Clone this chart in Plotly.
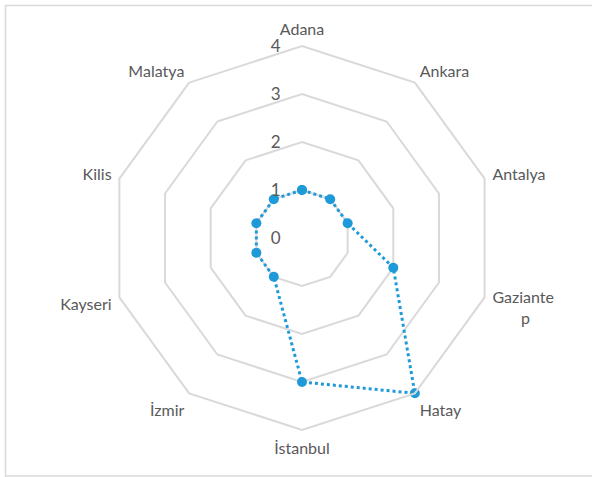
import plotly.graph_objects as go

NB = "\u00a0"
categories = ["Adana", "Ankara", "Antalya", "Gaziante<br>" + NB * 7 + "p", "Hatay",
              "İstanbul", "İzmir", "Kayseri", "Kilis", "Malatya"]
values = [1, 1, 1, 2, 4, 3, 1, 1, 1, 1]
radial_ticks = [0, 1, 2, 3, 4]

theta = categories + [categories[0]]
r = values + [values[0]]

fig = go.Figure()
fig.add_trace(go.Scatterpolar(
    r=r, theta=theta, mode="lines+markers",
    line=dict(color="#1f9ad8", width=3, dash="dot"),
    marker=dict(color="#1f9ad8", size=10),
    showlegend=False, cliponaxis=False,
))

W, H = 592, 477
cx, cy, R = 302, 238, 192
fig.update_layout(
    width=W, height=H,
    margin=dict(l=0, r=0, t=0, b=0),
    paper_bgcolor="white",
    font=dict(family="Lato, Open Sans, sans-serif", size=16, color="#595959"),
    polar=dict(
        domain=dict(x=[(cx - R) / W, (cx + R) / W],
                    y=[(H - cy - R) / H, (H - cy + R) / H]),
        gridshape="linear",
        bgcolor="white",
        angularaxis=dict(
            direction="clockwise", rotation=90,
            showgrid=False, showline=True, linecolor="#d9d9d9", linewidth=2,
            ticks="outside", ticklen=4, tickcolor="rgba(0,0,0,0)",
            tickfont=dict(size=16, color="#595959"),
        ),
        radialaxis=dict(
            range=[0, 4], tickvals=radial_ticks, angle=90, tickangle=90,
            showline=False, showgrid=True, gridcolor="#d9d9d9", gridwidth=2,
            ticks="outside", ticklen=15, tickcolor="rgba(0,0,0,0)",
            side="counterclockwise",
            tickfont=dict(size=17, color="#595959"),
        ),
    ),
    shapes=[dict(type="rect", xref="paper", yref="paper",
                 x0=5.5 / W, x1=1.02, y0=1 / H, y1=(H - 5.5) / H,
                 line=dict(color="#d9d9d9", width=1.5))],
)

fig.write_html("out.html", config={"displayModeBar": False},
               post_script="document.body.style.margin='0';")
